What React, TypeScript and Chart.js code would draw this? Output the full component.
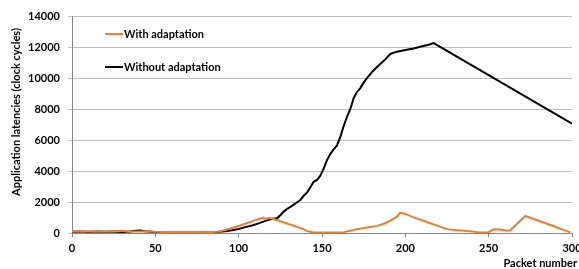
import React, { useEffect, useRef } from "react";
import { Chart, registerables } from "chart.js";

Chart.register(...registerables);

const withPackets = [0, 5, 10, 15, 20, 25, 30, 33, 38, 42, 45, 50, 55, 60, 65, 70, 75, 80, 85, 88, 92, 96, 100, 104, 108, 112, 115, 116, 118, 121, 125, 130, 134, 138, 142, 145, 150, 155, 160, 163, 167, 171, 175, 180, 183, 187, 191, 195, 197, 200, 205, 210, 215, 220, 225, 230, 235, 240, 245, 250, 253, 257, 261, 263, 267, 272, 275, 280, 285, 290, 295, 299];
const withValues = [100, 90, 110, 100, 90, 110, 150, 120, 100, 90, 110, 80, 70, 80, 70, 80, 60, 80, 70, 90, 190, 320, 450, 600, 750, 900, 1000, 920, 960, 900, 760, 580, 440, 280, 90, 30, 30, 30, 40, 50, 150, 240, 330, 400, 460, 600, 800, 1050, 1310, 1230, 1010, 820, 630, 440, 250, 190, 140, 90, 40, 50, 240, 220, 150, 180, 600, 1100, 980, 790, 600, 400, 200, 40];

const withoutPackets = [0, 5, 10, 15, 20, 25, 30, 35, 38, 41, 44, 48, 52, 56, 60, 65, 70, 75, 80, 85, 88, 92, 96, 100, 104, 108, 112, 116, 119, 121, 123, 125, 127, 129, 132, 134, 137, 139, 141, 143, 145, 147, 149, 151, 153, 155, 157, 159, 161, 163, 165, 167, 169, 171, 173, 175, 177, 179, 181, 184, 188, 191, 195, 200, 205, 210, 214, 217, 300];
const withoutValues = [80, 90, 70, 100, 80, 90, 70, 100, 150, 160, 110, 80, 60, 50, 50, 40, 50, 40, 40, 60, 80, 120, 180, 260, 380, 480, 620, 780, 880, 930, 950, 1150, 1380, 1550, 1750, 1900, 2130, 2400, 2600, 2950, 3300, 3420, 3700, 4150, 4700, 5100, 5400, 5650, 6200, 6900, 7500, 8000, 8700, 9100, 9350, 9700, 10000, 10250, 10500, 10800, 11200, 11550, 11700, 11800, 11900, 12050, 12150, 12250, 7050];

const seriesLabels = ["With adaptation", "Without adaptation"];
const seriesColors = ["#ED7D31", "#000000"];
const yTitle = "Application latencies (clock cycles)";
const xTitle = "Packet number";

const FONT = "Lato, 'Open Sans', sans-serif";

const overlayPlugin = {
  id: "overlay",
  afterDraw(chart: any) {
    const ctx = chart.ctx;
    const area = chart.chartArea;
    ctx.save();
    ctx.font = `bold 11px ${FONT}`;
    ctx.fillStyle = "#000";
    // y title
    ctx.save();
    ctx.translate(16, 112);
    ctx.rotate(-Math.PI / 2);
    ctx.textAlign = "center";
    ctx.textBaseline = "middle";
    ctx.fillText(yTitle, 0, 0);
    ctx.restore();
    // x title
    ctx.textAlign = "right";
    ctx.textBaseline = "middle";
    ctx.fillText(xTitle, area.right + 5, 263);
    // legend
    const lx = area.left + 33;
    const ys = [area.top + 18, area.top + 51];
    chart.data.datasets.forEach((ds: any, i: number) => {
      ctx.strokeStyle = ds.borderColor;
      ctx.lineWidth = 2;
      ctx.beginPath();
      ctx.moveTo(lx, ys[i]);
      ctx.lineTo(lx + 18, ys[i]);
      ctx.stroke();
      ctx.textAlign = "left";
      ctx.fillStyle = "#000";
      ctx.fillText(ds.label, lx + 19, ys[i]);
    });
    ctx.restore();
  },
};

export default function App() {
  const ref = useRef<HTMLCanvasElement>(null);
  useEffect(() => {
    document.body.style.margin = "0";
    const toPts = (xs: number[], ys: number[]) => xs.map((x, i) => ({ x, y: ys[i] }));
    const chart = new Chart(ref.current!, {
      type: "line",
      data: {
        datasets: [
          {
            label: seriesLabels[0],
            data: toPts(withPackets, withValues),
            borderColor: seriesColors[0],
            backgroundColor: seriesColors[0],
            borderWidth: 2,
            pointRadius: 0,
            tension: 0,
          },
          {
            label: seriesLabels[1],
            data: toPts(withoutPackets, withoutValues),
            borderColor: seriesColors[1],
            backgroundColor: seriesColors[1],
            borderWidth: 2,
            pointRadius: 0,
            tension: 0,
          },
        ],
      },
      options: {
        animation: false,
        responsive: false,
        layout: { padding: { top: 16, right: 7, left: 0, bottom: 0 } },
        plugins: { legend: { display: false }, tooltip: { enabled: false } },
        scales: {
          x: {
            type: "linear",
            min: 0,
            max: 300,
            ticks: { stepSize: 50, color: "#000", font: { family: FONT, size: 11, weight: "bold" }, padding: 5, maxRotation: 0, callback: (v: any) => String(v) },
            grid: { display: true, drawOnChartArea: false, tickLength: 4, color: "#868686" },
            border: { color: "#868686" },
            afterFit(scale: any) {
              scale.height = 36;
              scale.paddingLeft = 0;
              scale.paddingRight = 0;
            },
          },
          y: {
            min: 0,
            max: 14000,
            ticks: { stepSize: 2000, color: "#000", font: { family: FONT, size: 11, weight: "bold" }, padding: 8, callback: (v: any) => String(v) },
            grid: { color: "#BFBFBF", tickLength: 4 },
            border: { color: "#868686" },
            afterFit(scale: any) {
              scale.width = 72;
              scale.paddingTop = 0;
              scale.paddingBottom = 0;
            },
          },
        },
      },
      plugins: [overlayPlugin],
    } as any);
    return () => chart.destroy();
  }, []);
  return (
    <div style={{ width: 579, height: 269 }}>
      <canvas ref={ref} width={579} height={269} style={{ display: "block" }} />
    </div>
  );
}
